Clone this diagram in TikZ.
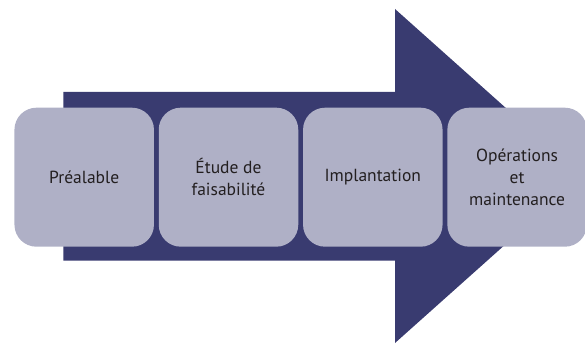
\documentclass[tikz,border=0pt]{standalone}
\usepackage{fontspec}
\setmainfont{PT Sans}
\usetikzlibrary{positioning}

\definecolor{arrowblue}{HTML}{393B70}
\definecolor{phasegray}{HTML}{AFB0C6}
\definecolor{phasetext}{HTML}{231F20}

\begin{document}
\begin{tikzpicture}[x=1pt, y=-1pt, line join = round]
\tikzstyle{phase}=[fill=phasegray, rounded corners=22pt, minimum width=139.5pt, minimum height=139pt, inner sep=0pt, align=center, text=phasetext, font=\fontsize{17.5}{22}\selectfont]
\useasboundingbox (0,0) rectangle (585,344);

% big arrow behind the phases
\coordinate (tail top) at (63.3,92);
\coordinate (tail bottom) at (63.3,260.5);
\coordinate (head top) at (395,9);
\coordinate (head bottom) at (395,343);
\coordinate (tip) at (582,176);
\fill[arrowblue] (tail top) -- (tail top -| head top) -- (head top) -- (tip)
  -- (head bottom) -- (tail bottom -| head bottom) -- (tail bottom) -- cycle;

% phases
\node[phase] (prealable) at (84.2,177.2) {Préalable};
\node[phase, right=4.4pt of prealable] (etude) {Étude de\\faisabilité};
\node[phase, right=4.4pt of etude] (implantation) {Implantation};
\node[phase, right=4.4pt of implantation] (operations) {Opérations\\et\\maintenance};
\end{tikzpicture}
\end{document}
